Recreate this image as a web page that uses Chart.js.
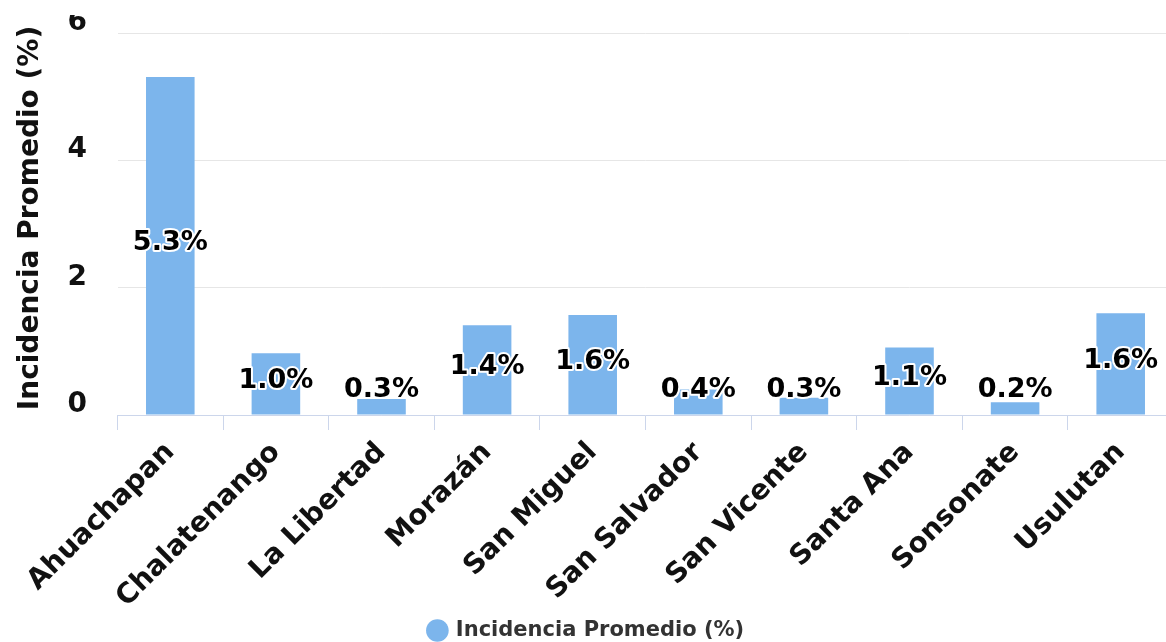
<!DOCTYPE html>
<html lang="es">
<head>
  <meta charset="UTF-8" />
  <title>Incidencia Promedio por departamento</title>
  <script src="https://cdn.jsdelivr.net/npm/chart.js"></script>
  <style>
    html, body { margin: 0; padding: 0; background: #fff; }
    .wrap { width: 1166px; height: 642px; overflow: hidden; position: relative; }
    .wrap canvas { position: absolute; left: 0; top: 0; }
  </style>
</head>
<body>
  <div class="wrap"><canvas id="incChart" width="1180" height="651"></canvas></div>

  <script>
    const departamentos = ["Ahuachapan", "Chalatenango", "La Libertad", "Morazán", "San Miguel",
      "San Salvador", "San Vicente", "Santa Ana", "Sonsonate", "Usulutan"];
    const incidencia = [5.31, 0.97, 0.25, 1.41, 1.57, 0.4, 0.27, 1.06, 0.2, 1.6];
    const yTicks = [0, 2, 4, 6];
    const serieNombre = "Incidencia Promedio (%)";

    const FONT = "'DejaVu Sans', Verdana, sans-serif";

    // draws the y labels, y title and the value labels on the bars
    const rotulos = {
      id: "rotulos",
      afterDatasetsDraw(chart) {
        const ctx = chart.ctx;
        const zeroY = chart.scales.y.getPixelForValue(0);
        const meta = chart.getDatasetMeta(0);
        ctx.save();
        ctx.font = "bold 27px " + FONT;
        ctx.textAlign = "center";
        ctx.textBaseline = "middle";
        ctx.lineJoin = "round";
        meta.data.forEach((bar, i) => {
          const txt = incidencia[i].toFixed(1) + "%";
          let y = (bar.y + bar.base) / 2 - 3;
          y = Math.min(y, zeroY - 25);
          ctx.lineWidth = 4;
          ctx.strokeStyle = "#ffffff";
          ctx.strokeText(txt, bar.x, y);
          ctx.fillStyle = "#000000";
          ctx.fillText(txt, bar.x, y);
        });
        ctx.restore();
      },
      afterDraw(chart) {
        const ctx = chart.ctx;
        const ys = chart.scales.y;
        ctx.save();
        ctx.beginPath();
        ctx.rect(0, 15, chart.width, chart.height);
        ctx.clip();
        ctx.font = "bold 28px " + FONT;
        ctx.fillStyle = "#111";
        ctx.textAlign = "right";
        ctx.textBaseline = "alphabetic";
        ys.ticks.forEach(t => {
          ctx.fillText(String(t.value), 87, ys.getPixelForValue(t.value) - 3);
        });
        ctx.restore();

        ctx.save();
        ctx.translate(31, 218);
        ctx.rotate(-Math.PI / 2);
        ctx.font = "bold 28px " + FONT;
        ctx.fillStyle = "#111";
        ctx.textAlign = "center";
        ctx.textBaseline = "middle";
        ctx.fillText(serieNombre, 0, 0);
        ctx.restore();
      }
    };

    new Chart(document.getElementById("incChart"), {
      type: "bar",
      data: {
        labels: departamentos,
        datasets: [{
          label: serieNombre,
          data: incidencia,
          backgroundColor: "#7cb5ec",
          borderWidth: 0,
          categoryPercentage: 1,
          barPercentage: 0.46
        }]
      },
      options: {
        responsive: false,
        animation: false,
        devicePixelRatio: 1,
        layout: { padding: { top: 33, right: 6.5, left: 0, bottom: 0 } },
        scales: {
          x: {
            afterFit: s => { s.height = 195; },
            grid: {
              offset: true,
              drawOnChartArea: false,
              tickLength: 15,
              color: "#ccd6eb"
            },
            border: { color: "#ccd6eb", width: 1 },
            ticks: {
              autoSkip: false,
              minRotation: 45,
              maxRotation: 45,
              padding: 6,
              color: "#111",
              font: { family: FONT, size: 28, weight: "bold" }
            }
          },
          y: {
            min: 0,
            max: 6,
            afterFit: s => { s.width = 117.5; },
            afterBuildTicks: s => { s.ticks = yTicks.map(v => ({ value: v })); },
            grid: { color: "#e6e6e6", drawTicks: false },
            border: { display: false },
            ticks: { display: false }
          }
        },
        plugins: {
          legend: {
            position: "bottom",
            labels: {
              usePointStyle: true,
              pointStyle: "circle",
              boxWidth: 16,
              boxHeight: 16,
              padding: 10,
              color: "#333",
              font: { family: FONT, size: 21, weight: "bold" }
            }
          },
          tooltip: { enabled: false }
        }
      },
      plugins: [rotulos]
    });
  </script>
</body>
</html>
